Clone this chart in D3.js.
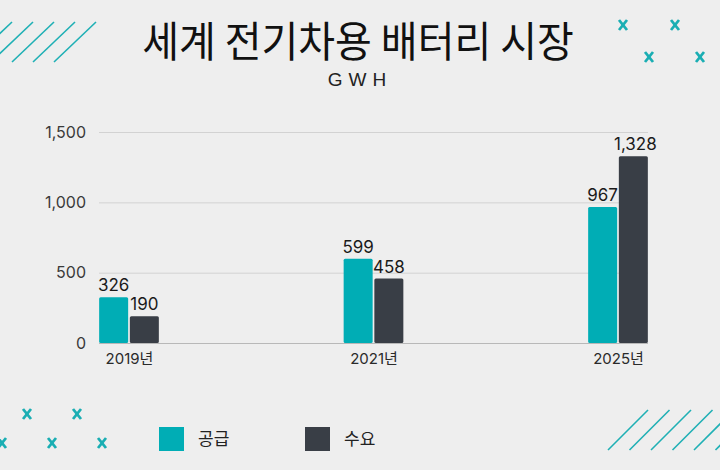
<!DOCTYPE html>
<html><head><meta charset="utf-8">
<script src="https://cdn.jsdelivr.net/npm/d3@7"></script>
<style>html,body{margin:0;padding:0;background:#eeeeee;}svg{display:block;}</style>
</head><body>
<svg id="c" width="720" height="470"></svg>
<script>
const categories = ["2019년", "2021년", "2025년"];
const seriesNames = ["공급", "수요"];
const supply = [326, 599, 967];
const demand = [190, 458, 1328];
const yTicks = [0, 500, 1000, 1500];
const colors = ["#00adb5", "#393e46"];

(function () {
const svg = d3.select("#c");
const W = 720, H = 470;
const pL = 99, pR = 648, pT = 132, pB = 343;
const numFont = "Inter, 'Noto Sans', 'Noto Sans CJK KR', sans-serif";
const krFont = "'Noto Sans CJK KR', sans-serif";

svg.append("rect").attr("width", W).attr("height", H).attr("fill", "#eeeeee");

// decorations
const deco = svg.append("g").attr("stroke", "#1fb0b5").attr("stroke-width", 1.6).attr("fill", "none");
[-30, -9, 12, 33, 54].forEach(b => deco.append("line").attr("x1", b).attr("y1", 62).attr("x2", b + 42).attr("y2", 22));
[608, 629.5, 651, 672.5, 694, 715.5].forEach(b => deco.append("line").attr("x1", b).attr("y1", 450).attr("x2", b + 40).attr("y2", 410));
const crosses = [[623,25],[675,25],[649,57],[700,57],[27,414],[77,414],[2,443],[52,443],[102,443]];
const cg = svg.append("g").attr("stroke", "#1aaeb3").attr("stroke-width", 2.8).attr("stroke-linecap", "butt");
crosses.forEach(([x,y]) => {
  cg.append("line").attr("x1", x-4).attr("y1", y-5).attr("x2", x+4).attr("y2", y+5);
  cg.append("line").attr("x1", x+4).attr("y1", y-5).attr("x2", x-4).attr("y2", y+5);
});

// title
svg.append("text").attr("x", 358).attr("y", 57).attr("text-anchor", "middle")
  .attr("font-family", krFont).attr("font-size", 40).attr("fill", "#111")
  .attr("transform", "translate(358,0) scale(1,1.05) translate(-358,-2.7)")
  .text("세계 전기차용 배터리 시장");
svg.append("text").attr("x", 360).attr("y", 86).attr("text-anchor", "middle")
  .attr("font-family", "'Liberation Sans', Arial, sans-serif").attr("font-size", 19).attr("letter-spacing", 6).attr("fill", "#222")
  .text("GWH");

// scales
const y = d3.scaleLinear().domain([0, 1500]).range([pB, pT]);
const x = d3.scalePoint().domain(categories).range([pL + 30, pR - 30]);
const bw = 29, gap = 1.7;

// grid
const yAxis = d3.axisLeft(y).tickValues(yTicks).tickSize(-(pR - pL)).tickFormat(d3.format(","));
const ga = svg.append("g").attr("transform", `translate(${pL},0)`).call(yAxis);
ga.select(".domain").remove();
ga.selectAll(".tick line").attr("stroke", "#d2d2d2").attr("stroke-width", 1);
ga.selectAll(".tick text").attr("x", -13).attr("font-family", numFont).attr("font-size", 16).attr("fill", "#3a3a3a");

// bars
const data = categories.map((c, i) => ({c, vals: [supply[i], demand[i]]}));
const groups = svg.append("g").selectAll("g").data(data).join("g");
groups.each(function(d) {
  const g = d3.select(this);
  d.vals.forEach((v, j) => {
    const bx = x(d.c) - bw - gap / 2 + j * (bw + gap);
    g.append("rect").attr("x", bx).attr("y", y(v)).attr("width", bw).attr("height", y(0) - y(v))
      .attr("rx", 1.5).attr("fill", colors[j]);
    g.append("text").attr("x", bx + bw / 2 + (v >= 1000 ? 2 : 0)).attr("y", y(v) - 6).attr("text-anchor", "middle")
      .attr("font-family", numFont).attr("font-size", 17).attr("fill", "#1a1a1a")
      .text(d3.format(",")(v));
  });
});

// baseline
svg.append("line").attr("x1", pL).attr("x2", pR).attr("y1", pB + 0.5).attr("y2", pB + 0.5)
  .attr("stroke", "#b8b8b8").attr("stroke-width", 1);

// x labels
const xAxis = d3.axisBottom(x).tickSize(0).tickPadding(10);
const gx = svg.append("g").attr("transform", `translate(0,${pB})`).call(xAxis);
gx.select(".domain").remove();
gx.selectAll(".tick text").attr("font-family", numFont).attr("font-size", 15).attr("fill", "#2a2a2a");

// legend
const lg = svg.append("g");
[[159, 0], [305, 1]].forEach(([lx, i]) => {
  lg.append("rect").attr("x", lx).attr("y", 427).attr("width", 25).attr("height", 24).attr("fill", colors[i]);
  lg.append("text").attr("x", lx + 39).attr("y", 445).attr("font-family", krFont).attr("font-size", 17).attr("fill", "#222").text(seriesNames[i]);
});
})();
</script>
</body></html>
